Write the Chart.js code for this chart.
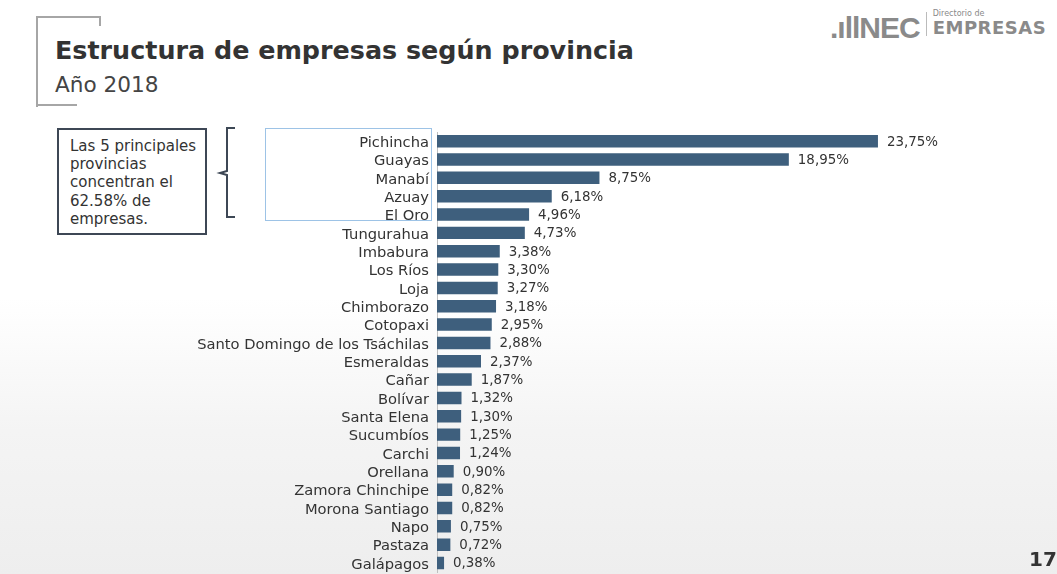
<!DOCTYPE html>
<html>
<head>
<meta charset="utf-8">
<script src="https://cdn.jsdelivr.net/npm/chart.js@4"></script>
<style>
  html, body { margin: 0; padding: 0; background: #fff; }
  #page { position: relative; width: 1057px; height: 574px; overflow: hidden; font-family: "DejaVu Sans", sans-serif; color: #333;
          background: linear-gradient(to bottom, #ffffff 0%, #ffffff 52%, #f4f4f4 75%, #eeeeee 100%); }
  #chartBox { position: absolute; left: 0; top: 0; width: 1057px; height: 589px; }
  .frame { position: absolute; border-color: #a6a6a6; border-style: solid; border-width: 0; }
  #title { position: absolute; left: 55px; top: 35px; font-size: 25.4px; font-weight: bold; color: #333; white-space: nowrap; }
  #subtitle { position: absolute; left: 55px; top: 72px; font-size: 21.6px; color: #444; white-space: nowrap; }
  #note { position: absolute; left: 57px; top: 128px; width: 150px; height: 107px; border: 2px solid #3d4755; background: #fff; font-size: 15px; line-height: 18.4px; padding: 6.5px 0 0 11px; box-sizing: border-box; color: #333; }
  #topbox { position: absolute; left: 265px; top: 128px; width: 167px; height: 93px; border: 1px solid #9dc3e6; box-sizing: border-box; }
  #logo { position: absolute; left: 830px; top: 9px; white-space: nowrap; color: #8a8a8a; }
  #logo .nec { font-size: 30px; font-weight: bold; letter-spacing: -1px; font-family: "Liberation Sans", sans-serif; }
  #logo .sep { display: inline-block; width: 1px; height: 24px; background: #bbb; margin: 0 6px; vertical-align: 2px; }
  #logo .dir { display: inline-block; vertical-align: 4px; line-height: 10px; }
  #logo .dir small { font-size: 8px; display: block; }
  #logo .dir b { font-size: 18px; display: block; line-height: 18px; letter-spacing: 0.5px; }
  #pagenum { position: absolute; left: 1029px; top: 547px; font-size: 20px; font-weight: bold; color: #333; }
</style>
</head>
<body>
<div id="page">
  <div class="frame" style="left:36px; top:16px; width:63px; height:89px; border-left-width:2px; border-top-width:2px;"></div>
  <div class="frame" style="left:99px; top:16px; width:0; height:10px; border-left-width:2px;"></div>
  <div class="frame" style="left:36px; top:104px; width:41px; height:0; border-top-width:2px;"></div>
  <div id="title">Estructura de empresas según provincia</div>
  <div id="subtitle">Año 2018</div>
  <div id="logo"><span class="nec">.ıllNEC</span><span class="sep"></span><span class="dir"><small>Directorio de</small><b>EMPRESAS</b></span></div>
  <div id="note">Las 5 principales provincias concentran el 62.58% de empresas.</div>
  <svg style="position:absolute; left:215px; top:126px;" width="24" height="94">
    <path d="M20 2 H12 V45 L5 47 L12 49 V91 H20" fill="none" stroke="#3d4755" stroke-width="2"/>
  </svg>
  <div id="chartBox"><canvas id="provChart" width="1057" height="589"></canvas></div>
  <div id="topbox"></div>
  <div id="pagenum">17</div>
</div>
<script>
const provincias = [
  "Pichincha", "Guayas", "Manabí", "Azuay", "El Oro", "Tungurahua", "Imbabura",
  "Los Ríos", "Loja", "Chimborazo", "Cotopaxi", "Santo Domingo de los Tsáchilas",
  "Esmeraldas", "Cañar", "Bolívar", "Santa Elena", "Sucumbíos", "Carchi",
  "Orellana", "Zamora Chinchipe", "Morona Santiago", "Napo", "Pastaza", "Galápagos"
];
const porcentajes = [
  23.75, 18.95, 8.75, 6.18, 4.96, 4.73, 3.38, 3.30, 3.27, 3.18, 2.95, 2.88,
  2.37, 1.87, 1.32, 1.30, 1.25, 1.24, 0.90, 0.82, 0.82, 0.75, 0.72, 0.38
];

// etiquetas al final de cada barra
const barLabels = {
    id: 'barLabels',
    afterDatasetsDraw(chart) {
        const ctx = chart.ctx;
        const meta = chart.getDatasetMeta(0);
        ctx.save();
        ctx.font = '13.4px "DejaVu Sans", sans-serif';
        ctx.fillStyle = '#333';
        ctx.textBaseline = 'middle';
        meta.data.forEach(function(bar, i) {
            const txt = porcentajes[i].toFixed(2).replace('.', ',') + '%';
            ctx.fillText(txt, bar.x + 9, bar.y + 1);
        });
        ctx.restore();
    }
};

const ctx = document.getElementById("provChart").getContext("2d");
new Chart(ctx, {
    type: "bar",
    data: {
        labels: provincias,
        datasets: [{
            data: porcentajes,
            backgroundColor: "#3e5f7d",
            borderWidth: 0,
            barPercentage: 0.68,
            categoryPercentage: 1.0
        }]
    },
    options: {
        indexAxis: 'y',
        responsive: false,
        animation: false,
        layout: { padding: { top: 132, bottom: 2, right: 63, left: 0 } },
        plugins: {
            legend: { display: false },
            tooltip: { enabled: false }
        },
        scales: {
            x: {
                display: false,
                min: 0,
                max: 30
            },
            y: {
                afterFit: function(axis) { axis.width = 437; },
                ticks: {
                    autoSkip: false,
                    color: '#333',
                    padding: 8,
                    labelOffset: 2,
                    font: { family: '"DejaVu Sans", sans-serif', size: 14.7 }
                },
                grid: { display: false, drawTicks: false },
                border: { color: '#bfbfbf', width: 1 }
            }
        }
    },
    plugins: [barLabels]
});
</script>
</body>
</html>
